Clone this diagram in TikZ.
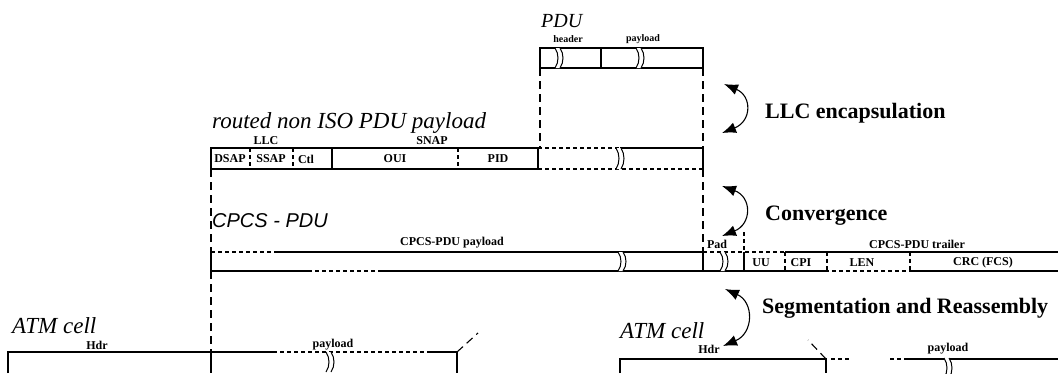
\documentclass[tikz,border=0pt]{standalone}
\usepackage{fontspec}
\setmainfont{Liberation Serif}
\newfontfamily\sanslab{Liberation Sans}
\usetikzlibrary{arrows.meta}
\tikzset{
  ln/.style={line width=1.3pt},
  fd/.style={line width=1.3pt, dash pattern=on 4pt off 3pt},
  conn/.style={line width=1.1pt, dash pattern=on 8pt off 5pt},
  lbl/.style={inner sep=0pt, font=\fontsize{12}{12}\selectfont\bfseries},
  tiny/.style={inner sep=0pt, font=\fontsize{10}{10}\selectfont\bfseries},
  ital/.style={inner sep=0pt, anchor=base west, font=\fontsize{23}{23}\selectfont\itshape},
  boldlab/.style={inner sep=0pt, anchor=base west, font=\fontsize{22}{22}\selectfont\bfseries},
  cyc/.style={line width=1.1pt, {Latex[length=14pt,width=11pt]}-{Latex[length=14pt,width=11pt]}},
  brk/.pic={
    \fill[white] (-4,-10) .. controls (0,-4) and (0,4) .. (-4,10) -- (1,10) .. controls (5,4) and (5,-4) .. (1,-10) -- cycle;
    \draw[line width=1pt] (-4,-10) .. controls (0,-4) and (0,4) .. (-4,10);
    \draw[line width=1pt] (1,-10) .. controls (5,-4) and (5,4) .. (1,10);
  }
}
\begin{document}
\begin{tikzpicture}[x=1pt,y=-1pt]
\useasboundingbox (0,0) rectangle (1058,373);

% ---------- PDU ----------
\node[ital, font=\fontsize{20}{20}\selectfont\itshape] (pduT) at (541,27) {PDU};
\node[tiny] (pduH) at (568,39) {header};
\node[tiny] (pduP) at (643,39) {payload};
\draw[ln] (540,48) rectangle (703,68);
\draw[ln] (601,48) -- (601,68);
\pic at (559,58) {brk};
\pic at (640,58) {brk};
\coordinate (pduBL) at (540,68);
\coordinate (pduBR) at (703,68);

% ---------- routed non ISO PDU payload ----------
\node[ital] (routT) at (212,128) {routed non ISO PDU payload};
\node[lbl] (llc) at (266,141) {LLC};
\node[lbl] (snap) at (432,141) {SNAP};
\draw[ln] (211,148) rectangle (538,169);
\draw[fd] (250,148) -- (250,169);
\draw[fd] (293,148) -- (293,169);
\draw[ln] (332,148) -- (332,169);
\draw[fd] (458,148) -- (458,169);
\node[lbl] (dsap) at (230,159) {DSAP};
\node[lbl] (ssap) at (271,159) {SSAP};
\node[lbl] (ctl) at (306,159) {Ctl};
\node[lbl] (oui) at (395,159) {OUI};
\node[lbl] (pid) at (498,159) {PID};
\draw[fd] (538,148) -- (620,148);
\draw[ln] (620,148) -- (703,148) -- (703,169);
\draw[fd] (538,169) -- (703,169);
\pic[yscale=1.05] at (620,158.5) {brk};
\coordinate (rtTL) at (540,148);
\coordinate (rtTR) at (703,148);
\coordinate (rtBL) at (211,169);
\coordinate (rtBR) at (703,169);

% ---------- CPCS - PDU ----------
\node[inner sep=0pt, anchor=base west, font=\sanslab\itshape\fontsize{20}{20}\selectfont] (cpcsT) at (212,227) {CPCS - PDU};
\node[lbl] (cpcsP) at (452,243) {CPCS-PDU payload};
\node[lbl] (pad) at (717,244) {Pad};
\node[lbl] (trail) at (917,244) {CPCS-PDU trailer};
\draw[fd] (211,252) -- (278,252);
\draw[ln] (278,252) -- (703,252);
\draw[fd] (703,252) -- (785,252);
\draw[ln] (785,252) -- (1058,252);
\draw[ln] (211,271) -- (308,271);
\draw[fd] (308,271) -- (382,271);
\draw[ln] (382,271) -- (825,271);
\draw[fd] (825,271) -- (910,271);
\draw[ln] (910,271) -- (1058,271);
\draw[ln] (211,252) -- (211,271);
\draw[ln] (703,252) -- (703,271);
\draw[ln] (744,252) -- (744,271);
\draw[fd] (744,232) -- (744,252);
\draw[fd] (785,252) -- (785,271);
\draw[fd] (827,252) -- (827,271);
\draw[fd] (910,252) -- (910,271);
\pic[yscale=0.95] at (622,261.5) {brk};
\pic[yscale=0.95] at (724,261.5) {brk};
\node[lbl] (uu) at (761,263) {UU};
\node[lbl] (cpi) at (801,263) {CPI};
\node[lbl] (len) at (862,263) {LEN};
\node[lbl] (crc) at (983,263) {CRC (FCS)};
\coordinate (cpTL) at (211,252);
\coordinate (cpTR) at (703,252);
\coordinate (cpBL) at (211,271);

% ---------- ATM cell (left) ----------
\node[ital] (atmL) at (12,333) {ATM cell};
\node[lbl] (hdrL) at (97,345) {Hdr};
\node[lbl] (payL) at (333,345) {payload};
\draw[ln] (8,373) -- (8,352) -- (273,352);
\draw[fd] (273,352) -- (430,352);
\draw[ln] (430,352) -- (457,352) -- (457,373);
\draw[ln] (211,352) -- (211,373);
\pic at (330,362) {brk};
\coordinate (atmLT) at (211,352);
\coordinate (atmLc) at (457,352);
\coordinate (atmLs) at (478,333);

% ---------- ATM cell (right) ----------
\node[ital] (atmR) at (620,338) {ATM cell};
\node[lbl] (hdrR) at (709,349) {Hdr};
\node[lbl] (payR) at (948,349) {payload};
\draw[ln] (620,373) -- (620,359) -- (826,359) -- (826,373);
\draw[fd] (831,359) -- (850,359);
\draw[fd] (890,359) -- (905,359);
\draw[ln] (905,359) -- (1058,359);
\pic at (948,368) {brk};
\coordinate (atmRc) at (826,359);
\coordinate (atmRs) at (808,340);

% ---------- dashed mapping lines ----------
\draw[conn] (pduBL) -- (rtTL);
\draw[conn] (pduBR) -- (rtTR);
\draw[conn] (rtBR) -- (cpTR);
\draw[conn] (rtBL) -- (cpTL);
\draw[conn] (cpBL) -- (atmLT);
\draw[conn] (atmLc) -- (atmLs);
\draw[conn] (atmRc) -- (atmRs);

% ---------- layer arrows ----------
\coordinate (a1) at (724,84);
\coordinate (a2) at (722,133);
\coordinate (b1) at (722,186);
\coordinate (b2) at (722,236);
\coordinate (c1) at (725,289);
\coordinate (c2) at (723,346);
\draw[cyc] (a1) .. controls (752,96) and (752,121) .. (a2);
\draw[cyc] (b1) .. controls (752,197) and (752,224) .. (b2);
\draw[cyc] (c1) .. controls (754,302) and (754,333) .. (c2);
\node[boldlab] (llcenc) at (765,118) {LLC encapsulation};
\node[boldlab] (conv) at (765,220) {Convergence};
\node[boldlab] (sar) at (762,313) {Segmentation and Reassembly};
\end{tikzpicture}
\end{document}
